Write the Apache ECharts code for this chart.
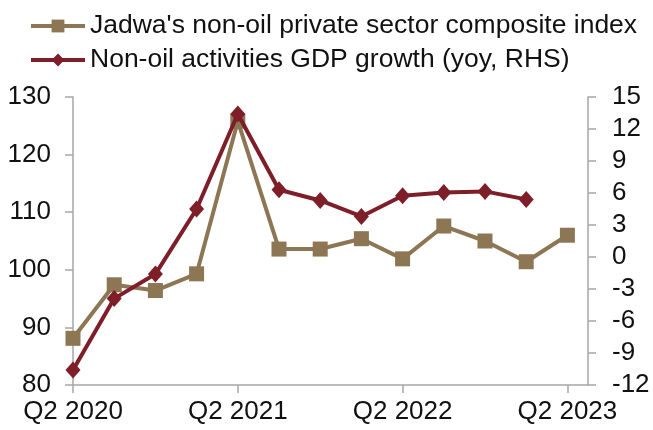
<!DOCTYPE html>
<html>
<head>
<meta charset="utf-8">
<script src="https://cdn.jsdelivr.net/npm/echarts@6/dist/echarts.min.js"></script>
<style>
  html, body { margin: 0; padding: 0; background: #fff; }
  #chart { width: 653px; height: 430px; }
</style>
</head>
<body>
<div id="chart"></div>
<script>
// Quarterly periods, Q2 2020 .. Q2 2023
const quarters = ['Q2 2020', 'Q3 2020', 'Q4 2020', 'Q1 2021', 'Q2 2021', 'Q3 2021', 'Q4 2021',
                  'Q1 2022', 'Q2 2022', 'Q3 2022', 'Q4 2022', 'Q1 2023', 'Q2 2023'];
// Composite index (left axis)
const compositeIndex = [88.1, 97.4, 96.4, 99.3, 125.8, 103.6, 103.6, 105.4, 101.9, 107.6, 105.0, 101.4, 106.0];
// Non-oil GDP growth, % yoy (right axis); no reading yet for the last quarter
const gdpGrowth = [-10.6, -3.9, -1.6, 4.5, 13.4, 6.3, 5.3, 3.8, 5.75, 6.05, 6.15, 5.4, null];
// Quarters that carry an x-axis label
const labelledQuarters = ['Q2 2020', 'Q2 2021', 'Q2 2022', 'Q2 2023'];

const labelIdx = labelledQuarters.map(q => quarters.indexOf(q));
const toPoints = vals => vals.map((v, i) => [i, v]);

const FONT = 'Liberation Sans, Arial, sans-serif';
const AXIS_GREY = '#a6a6a6';
const TAN = '#8c7654';
const MAROON = '#7d1e28';

const chart = echarts.init(document.getElementById('chart'), null, { renderer: 'canvas' });
chart.setOption({
  animation: false,
  backgroundColor: '#ffffff',
  textStyle: { fontFamily: FONT },
  legend: {
    orient: 'vertical',
    left: 24,
    top: 6,
    itemWidth: 54,
    itemHeight: 16,
    itemGap: 4,
    lineStyle: { width: 4 },
    textStyle: { fontFamily: FONT, fontSize: 26.5, color: '#111', lineHeight: 30 },
    data: [
      "Jadwa's non-oil private sector composite index",
      'Non-oil activities GDP growth (yoy, RHS)'
    ]
  },
  grid: { left: 73, right: 65, top: 97, bottom: 45, containLabel: false },
  xAxis: {
    type: 'value',
    min: 0,
    max: quarters.length - 0.5,
    splitLine: { show: false },
    axisLine: { show: true, onZero: false, lineStyle: { color: AXIS_GREY, width: 1.5 } },
    axisTick: { show: true, length: 8, customValues: labelIdx, lineStyle: { color: AXIS_GREY, width: 1.5 } },
    axisLabel: {
      customValues: labelIdx,
      margin: 14,
      fontSize: 26,
      color: '#111',
      fontFamily: FONT,
      formatter: v => quarters[Math.round(v)] || ''
    }
  },
  yAxis: [
    {
      type: 'value',
      min: 80, max: 130, interval: 10,
      position: 'left',
      splitLine: { show: false },
      axisLine: { show: true, onZero: false, lineStyle: { color: AXIS_GREY, width: 1.5 } },
      axisTick: { show: true, length: 8, lineStyle: { color: AXIS_GREY, width: 1.5 } },
      axisLabel: { margin: 22, fontSize: 26, color: '#111', fontFamily: FONT }
    },
    {
      type: 'value',
      min: -12, max: 15, interval: 3,
      position: 'right',
      splitLine: { show: false },
      axisLine: { show: true, onZero: false, lineStyle: { color: AXIS_GREY, width: 1.5 } },
      axisTick: { show: true, length: 8, lineStyle: { color: AXIS_GREY, width: 1.5 } },
      axisLabel: { margin: 24, fontSize: 26, color: '#111', fontFamily: FONT }
    }
  ],
  series: [
    {
      name: "Jadwa's non-oil private sector composite index",
      type: 'line',
      yAxisIndex: 0,
      data: toPoints(compositeIndex),
      symbol: 'rect',
      symbolSize: 15,
      lineStyle: { color: TAN, width: 4 },
      itemStyle: { color: TAN },
      z: 2
    },
    {
      name: 'Non-oil activities GDP growth (yoy, RHS)',
      type: 'line',
      yAxisIndex: 1,
      data: toPoints(gdpGrowth),
      symbol: 'diamond',
      symbolSize: [15, 17],
      lineStyle: { color: MAROON, width: 4 },
      itemStyle: { color: MAROON },
      z: 3
    }
  ]
});
</script>
</body>
</html>
